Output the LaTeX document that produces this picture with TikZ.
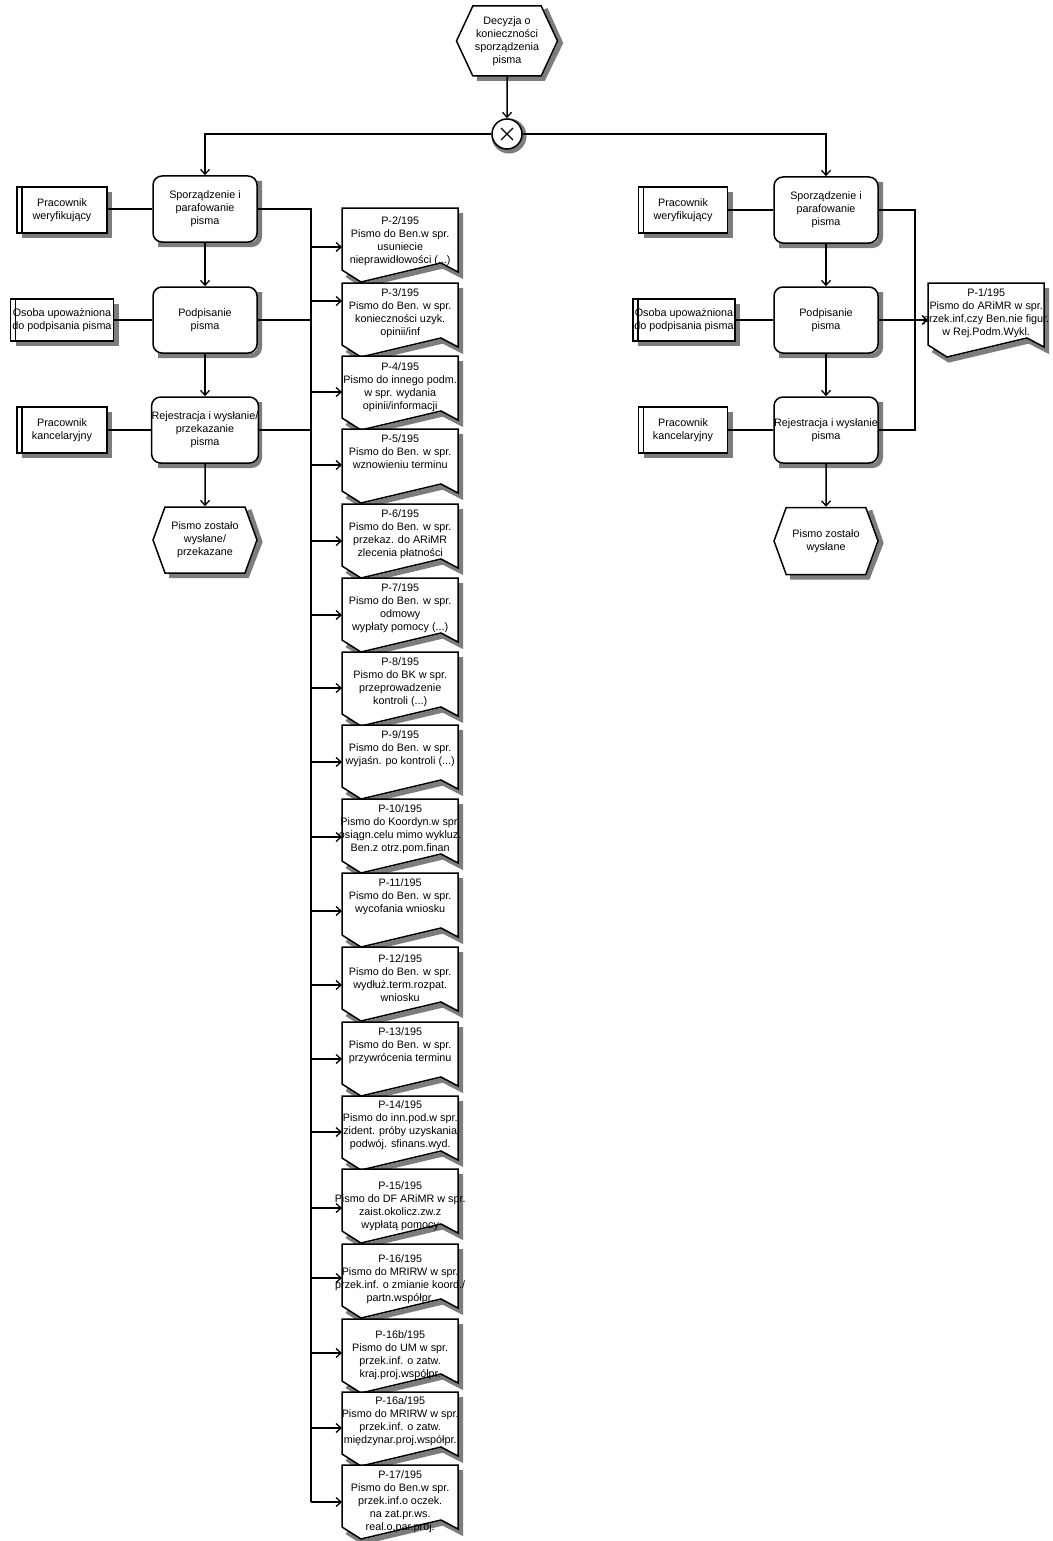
\documentclass[tikz,border=0pt]{standalone}
\usepackage{fontspec}
\setmainfont{Liberation Sans}
\usetikzlibrary{shapes.symbols,arrows.meta,calc}

\definecolor{shadowgray}{RGB}{125,125,125}

\tikzset{
  every node/.style={font=\fontsize{10.8}{13}\selectfont, align=center},
  shadowline/.style={draw=shadowgray, line width=5pt, line join=miter},
  ln/.style={line width=1.5pt},
  arr/.style={line width=1.5pt, -{Straight Barb[length=5pt,width=9pt,line width=1.3pt]}},
  fn/.style={draw, line width=1.5pt, fill=white, rounded corners=9pt,
    minimum width=104pt, minimum height=66pt, inner sep=0pt},
  ev/.style={draw, line width=1.5pt, fill=white, shape=signal, signal to=east and west,
    signal pointer angle=140, minimum width=104pt, minimum height=66pt, inner sep=0pt},
  role/.style={draw, line width=1.2pt, fill=white, minimum height=46pt, inner sep=0pt,
    path picture={\draw[line width=1.2pt]
      ([xshift=5pt]path picture bounding box.north west) --
      ([xshift=5pt]path picture bounding box.south west);}},
  xor/.style={draw, circle, line width=1.5pt, fill=white, minimum size=30pt, inner sep=0pt,
    path picture={\draw[line width=1.3pt]
      ([shift={(-6pt,-6pt)}]path picture bounding box.center) -- ([shift={(6pt,6pt)}]path picture bounding box.center)
      ([shift={(-6pt,6pt)}]path picture bounding box.center) -- ([shift={(6pt,-6pt)}]path picture bounding box.center);}},
  docshape/.style={draw, line width=1.5pt, fill=white},
  docbody/.style={draw=none, minimum width=116pt, minimum height=62pt, inner sep=0pt},
  doctext/.style={inner sep=0pt},
}

% document symbol: name, left x, top y, text offset, text
\newcommand\docitem[5]{%
  \draw[shadowline] (#2+118.5,#3+5) -- (#2+118.5,#3+67) -- (#2+101,#3+58) -- (#2+21,#3+77) -- (#2+5,#3+67);
  \path[docshape] (#2,#3) -- ++(116,0) -- ++(0,64) -- ++(-17,-9) -- ++(-80,19) -- ++(-19,-12) -- cycle;
  \node[docbody, anchor=north west] (#1) at (#2,#3) {};
  \node[doctext, anchor=north] (#1t) at ([yshift=-#4pt]#1.north) {#5};
}
% shadows along the right and lower sides: centre x, centre y, half width, half height
\newcommand\boxshade[4]{%
  \draw[shadowline, rounded corners=8pt] (#1+#3+2.5,#2-#4+5) -- (#1+#3+2.5,#2+#4+2.5) -- (#1-#3+5,#2+#4+2.5);}
\newcommand\roleshade[4]{%
  \draw[shadowline] (#1+#3+2.5,#2-#4+5) -- (#1+#3+2.5,#2+#4+2.5) -- (#1-#3+5,#2+#4+2.5);}
% centre x, centre y, half width, half height, point depth
\newcommand\hexshade[5]{%
  \draw[shadowline] (#1+#3-#5+4,#2-#4+3) -- (#1+#3+3,#2+2) -- (#1+#3-#5+2,#2+#4+2.5) -- (#1-#3+#5+4,#2+#4+2.5);}

\begin{document}
\begin{tikzpicture}[x=1pt, y=-1pt]
\fill[white] (0,0) rectangle (1052,1541);
\useasboundingbox (0,0) rectangle (1052,1541);

% start event and split
\hexshade{507}{41}{50.5}{35}{16.3}
\node[ev, minimum width=101pt, minimum height=70pt, signal pointer angle=130] (E0) at (507,41)
  {Decyzja o\\konieczności\\sporządzenia\\pisma};
\draw[shadowline] (509,136) circle (15);
\node[xor] (X) at (507,134) {};

% left branch
\boxshade{205}{209}{52}{33}
\boxshade{205}{320}{52}{33}
\boxshade{205}{430}{52}{33}
\hexshade{205}{540}{52}{33}{12}
\node[fn] (L1) at (205,209) {Sporządzenie i\\parafowanie\\pisma};
\node[fn] (L2) at (205,320) {Podpisanie\\pisma};
\node[fn] (L3) at (205,430) {Rejestracja i wysłanie/\\przekazanie\\pisma};
\node[ev] (L4) at (205,540) {Pismo zostało\\wysłane/\\przekazane};

\roleshade{62}{210}{45}{23}
\roleshade{62}{320}{51.5}{21}
\roleshade{62}{430}{45}{23}
\node[role, minimum width=90pt] (W1) at (62,210) {Pracownik\\weryfikujący};
\node[role, minimum width=103pt, minimum height=42pt] (W2) at (62,320) {Osoba upoważniona\\do podpisania pisma};
\node[role, minimum width=90pt] (W3) at (62,430) {Pracownik\\kancelaryjny};

% right branch
\boxshade{826}{210}{52}{33}
\boxshade{826}{320}{52}{33}
\boxshade{826}{430}{52}{33}
\hexshade{826}{541}{52}{33.5}{12.2}
\node[fn] (R1) at (826,210) {Sporządzenie i\\parafowanie\\pisma};
\node[fn] (R2) at (826,320) {Podpisanie\\pisma};
\node[fn] (R3) at (826,430) {Rejestracja i wysłanie\\pisma};
\node[ev, minimum height=67pt] (R4) at (826,541) {Pismo zostało\\wysłane};

\roleshade{683}{210}{44.5}{23}
\roleshade{684}{320}{51}{21}
\roleshade{683}{430}{44.5}{23}
\node[role, minimum width=89pt] (V1) at (683,210) {Pracownik\\weryfikujący};
\node[role, minimum width=102pt, minimum height=42pt] (V2) at (684,320) {Osoba upoważniona\\do podpisania pisma};
\node[role, minimum width=89pt] (V3) at (683,430) {Pracownik\\kancelaryjny};

% letters
\docitem{P2}{342}{208}{8}{P-2/195\\Pismo do Ben.w spr.\\usuniecie\\nieprawidłowości (...)}
\docitem{P3}{342}{283}{5}{P-3/195\\Pismo do Ben. w spr.\\konieczności uzyk.\\opinii/inf}
\docitem{P4}{342}{356}{6}{P-4/195\\Pismo do innego podm.\\w spr. wydania\\opinii/informacji}
\docitem{P5}{342}{429}{5}{P-5/195\\Pismo do Ben. w spr.\\wznowieniu terminu}
\docitem{P6}{342}{504}{5}{P-6/195\\Pismo do Ben. w spr.\\przekaz. do ARiMR\\zlecenia płatności}
\docitem{P7}{342}{578}{5}{P-7/195\\Pismo do Ben. w spr.\\odmowy\\wypłaty pomocy (...)}
\docitem{P8}{342}{652}{5}{P-8/195\\Pismo do BK w spr.\\przeprowadzenie\\kontroli (...)}
\docitem{P9}{342}{725}{5}{P-9/195\\Pismo do Ben. w spr.\\wyjaśn. po kontroli (...)}
\docitem{P10}{342}{799}{5}{P-10/195\\Pismo do Koordyn.w spr.\\osiągn.celu mimo wykluz.\\Ben.z otrz.pom.finan}
\docitem{P11}{342}{873}{5}{P-11/195\\Pismo do Ben. w spr.\\wycofania wniosku}
\docitem{P12}{342}{947}{7}{P-12/195\\Pismo do Ben. w spr.\\wydłuż.term.rozpat.\\wniosku}
\docitem{P13}{342}{1022}{5}{P-13/195\\Pismo do Ben. w spr.\\przywrócenia terminu}
\docitem{P14}{342}{1096}{4}{P-14/195\\Pismo do inn.pod.w spr.\\zident. próby uzyskania\\podwój. sfinans.wyd.}
\docitem{P15}{342}{1169}{12}{P-15/195\\Pismo do DF ARiMR w spr.\\zaist.okolicz.zw.z\\wypłatą pomocy}
\docitem{P16}{342}{1244}{10}{P-16/195\\Pismo do MRIRW w spr.\\przek.inf. o zmianie koord./\\partn.współpr.}
\docitem{P16b}{342}{1319}{11}{P-16b/195\\Pismo do UM w spr.\\przek.inf. o zatw.\\kraj.proj.współpr.}
\docitem{P16a}{342}{1392}{4}{P-16a/195\\Pismo do MRIRW w spr.\\przek.inf. o zatw.\\międzynar.proj.współpr.}
\docitem{P17}{342}{1465}{5}{P-17/195\\Pismo do Ben.w spr.\\przek.inf.o oczek.\\na zat.pr.ws.\\real.o.par.proj.}
\docitem{P1}{928}{283}{5}{P-1/195\\Pismo do ARiMR w spr.\\przek.inf.czy Ben.nie figur.\\w Rej.Podm.Wykl.}

% control flow
\draw[arr] (E0) -- (X);
\draw[arr] (X.west) -| (L1.north);
\draw[arr] (X.east) -| (R1.north);
\draw[arr] (L1) -- (L2);
\draw[arr] (L2) -- (L3);
\draw[arr] (L3) -- (L4);
\draw[arr] (R1) -- (R2);
\draw[arr] (R2) -- (R3);
\draw[arr] (R3) -- (R4);

% roles
\draw[ln] (L1.west) -- (L1.west -| W1.east);
\draw[ln] (L2.west) -- (L2.west -| W2.east);
\draw[ln] (L3.west) -- (L3.west -| W3.east);
\draw[ln] (R1.west) -- (R1.west -| V1.east);
\draw[ln] (R2.west) -- (R2.west -| V2.east);
\draw[ln] (R3.west) -- (R3.west -| V3.east);

% output trunk of the left branch
\coordinate (T0) at (311,209);
\coordinate (T1) at (311,1502);
\draw[ln] (L1.east) -- (T0) -- (T1);
\draw[ln] (L2.east) -- (L2.east -| T0);
\draw[ln] (L3.east) -- (L3.east -| T0);
\foreach \d/\y in {P2/247, P3/301, P4/392, P5/465, P6/541, P7/615, P8/688, P9/762,
  P10/837, P11/911, P12/985, P13/1059, P14/1132, P15/1208, P16/1278, P16b/1353, P16a/1428, P17/1502}{
  \coordinate (a\d) at (311,\y);
  \draw[arr] (a\d) -- (a\d -| \d.west);
}

% output line of the right branch
\coordinate (RB) at (915,0);
\draw[ln] (R1.east) -- (R1.east -| RB) -- (R3.east -| RB) -- (R3.east);
\draw[arr] (R2.east) -- (R2.east -| P1.west);
\end{tikzpicture}
\end{document}
